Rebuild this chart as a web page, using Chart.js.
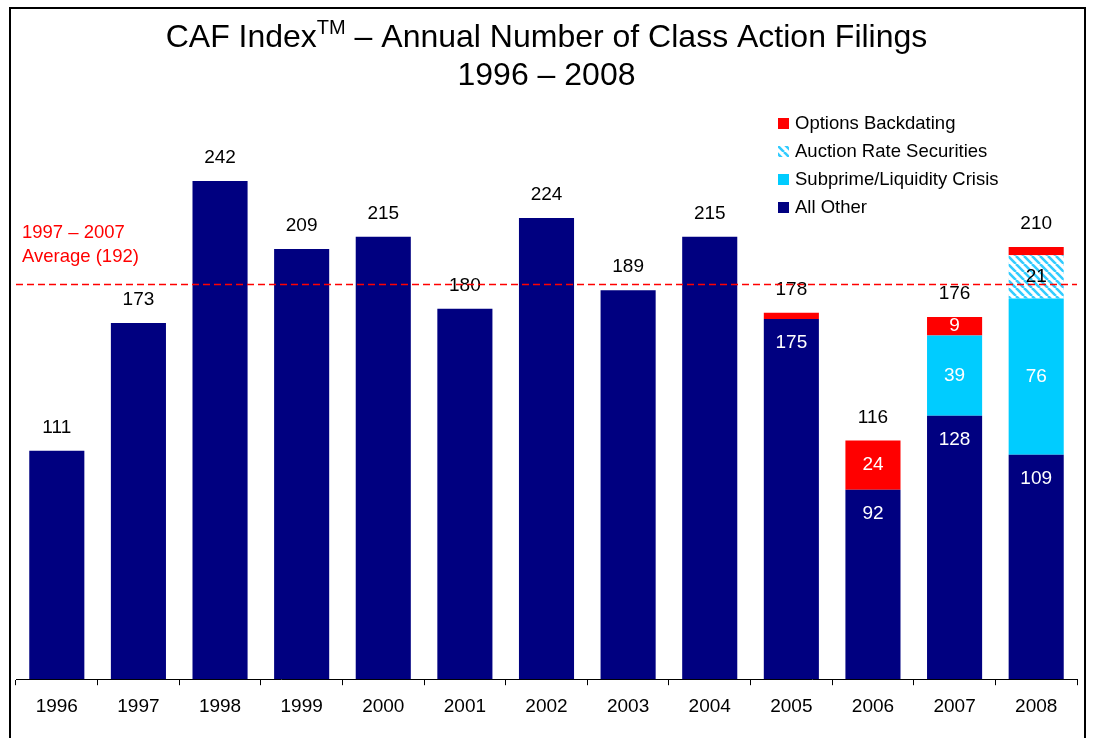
<!DOCTYPE html>
<html>
<head>
<meta charset="utf-8">
<script src="https://cdn.jsdelivr.net/npm/chart.js@4"></script>
<style>
  body { margin: 0; background: #fff; }
  #wrap { width: 1093px; height: 738px; }
</style>
</head>
<body>
<div id="wrap"><canvas id="chart" width="1093" height="738"></canvas></div>
<script>
const years = ["1996","1997","1998","1999","2000","2001","2002","2003","2004","2005","2006","2007","2008"];
const allOther   = [111, 173, 242, 209, 215, 180, 224, 189, 215, 175, 92, 128, 109];
const subprime   = [0, 0, 0, 0, 0, 0, 0, 0, 0, 0, 0, 39, 76];
const auctionRate = [0, 0, 0, 0, 0, 0, 0, 0, 0, 0, 0, 0, 21];
const backdating = [0, 0, 0, 0, 0, 0, 0, 0, 0, 3, 24, 9, 4];
const totals     = [111, 173, 242, 209, 215, 180, 224, 189, 215, 178, 116, 176, 210];
const average = 192;
const averageLabel = ["1997 \u2013 2007", "Average (192)"];

const NAVY = "#000080", RED = "#FF0000", CYAN = "#00CCFF";
const FONT = "Arial, 'Liberation Sans', sans-serif";

// diagonal stripes for auction rate securities
function stripes() {
  const c = document.createElement("canvas");
  c.width = 8; c.height = 8;
  const g = c.getContext("2d");
  g.fillStyle = "#fff";
  g.fillRect(0, 0, 8, 8);
  g.strokeStyle = "#33CCFF";
  g.lineWidth = 2.6;
  g.beginPath();
  for (let k = -8; k <= 16; k += 8) {
    g.moveTo(k, 0); g.lineTo(k + 8, 8);
  }
  g.stroke();
  return g.createPattern(c, "repeat");
}
const hatch = stripes();

// which segments get an inside label and where
function segLabel(ds, i) {
  if (ds === 0) return years[i] >= "2005" ? { pos: "top", color: "#fff" } : null;
  if (ds === 2) return { pos: "mid", color: "#000" };
  if (ds === 3 && backdating[i] < 5) return null;
  return { pos: "mid", color: "#fff" };
}

const decor = {
  id: "decor",
  afterDatasetsDraw(chart) {
    const ctx = chart.ctx, a = chart.chartArea, y = chart.scales.y;
    ctx.save();
    // segment labels
    ctx.font = "19px " + FONT;
    ctx.textAlign = "center";
    ctx.textBaseline = "middle";
    chart.data.datasets.forEach((d, ds) => {
      chart.getDatasetMeta(ds).data.forEach((bar, i) => {
        if (!d.data[i]) return;
        const s = segLabel(ds, i);
        if (!s) return;
        const top = Math.min(bar.y, bar.base), bot = Math.max(bar.y, bar.base);
        ctx.fillStyle = s.color;
        ctx.fillText(String(d.data[i]), bar.x, s.pos === "top" ? top + 24 : (top + bot) / 2);
      });
    });
    // totals above bars
    ctx.fillStyle = "#000";
    const meta0 = chart.getDatasetMeta(0).data;
    totals.forEach((t, i) => {
      ctx.fillText(String(t), meta0[i].x, y.getPixelForValue(t) - 23);
    });
    // average line
    const ay = Math.round(y.getPixelForValue(average)) + 0.5;
    ctx.strokeStyle = RED;
    ctx.lineWidth = 1.6;
    ctx.setLineDash([7, 4]);
    ctx.beginPath();
    ctx.moveTo(a.left, ay); ctx.lineTo(a.right, ay);
    ctx.stroke();
    ctx.setLineDash([]);
    ctx.fillStyle = RED;
    ctx.font = "18.5px " + FONT;
    ctx.textAlign = "left";
    ctx.fillText(averageLabel[0], 22, 233);
    ctx.fillText(averageLabel[1], 22, 257);
    // legend
    const items = [3, 2, 1, 0];
    items.forEach((ds, k) => {
      const d = chart.data.datasets[ds];
      const ly = 124 + k * 28;
      ctx.fillStyle = d.backgroundColor;
      ctx.fillRect(778, ly - 6, 11, 11);
      ctx.fillStyle = "#000";
      ctx.fillText(d.label, 795, ly);
    });
    // title
    ctx.textBaseline = "alphabetic";
    const t1 = "CAF Index", sup = "TM", t2 = " \u2013 Annual Number of Class Action Filings";
    ctx.font = "32px " + FONT;
    const w1 = ctx.measureText(t1).width, w3 = ctx.measureText(t2).width;
    ctx.font = "20px " + FONT;
    const w2 = ctx.measureText(sup).width;
    let x = chart.width / 2 - (w1 + w2 + w3) / 2;
    ctx.font = "32px " + FONT;
    ctx.fillText(t1, x, 47);
    ctx.font = "20px " + FONT;
    ctx.fillText(sup, x + w1, 34);
    ctx.font = "32px " + FONT;
    ctx.fillText(t2, x + w1 + w2, 47);
    ctx.textAlign = "center";
    ctx.fillText("1996 \u2013 2008", chart.width / 2, 85);
    // frame
    ctx.strokeStyle = "#000";
    ctx.lineWidth = 2;
    ctx.strokeRect(10, 8, 1075, 740);
    ctx.restore();
  }
};

new Chart(document.getElementById("chart"), {
  type: "bar",
  data: {
    labels: years,
    datasets: [
      { label: "All Other", data: allOther, backgroundColor: NAVY },
      { label: "Subprime/Liquidity Crisis", data: subprime, backgroundColor: CYAN },
      { label: "Auction Rate Securities", data: auctionRate, backgroundColor: hatch },
      { label: "Options Backdating", data: backdating, backgroundColor: RED }
    ]
  },
  options: {
    responsive: false,
    animation: false,
    layout: { padding: { top: 144, left: 16, right: 16, bottom: 10 } },
    plugins: { legend: { display: false }, tooltip: { enabled: false } },
    datasets: { bar: { categoryPercentage: 1, barPercentage: 0.675, borderWidth: 0 } },
    scales: {
      x: {
        stacked: true,
        grid: { drawOnChartArea: false, color: "#000", tickLength: 6, offset: true },
        border: { color: "#000", width: 1 },
        ticks: { color: "#000", font: { family: FONT, size: 19 }, padding: 10 }
      },
      y: { stacked: true, display: false, min: 0, max: 260 }
    }
  },
  plugins: [decor]
});
</script>
</body>
</html>
